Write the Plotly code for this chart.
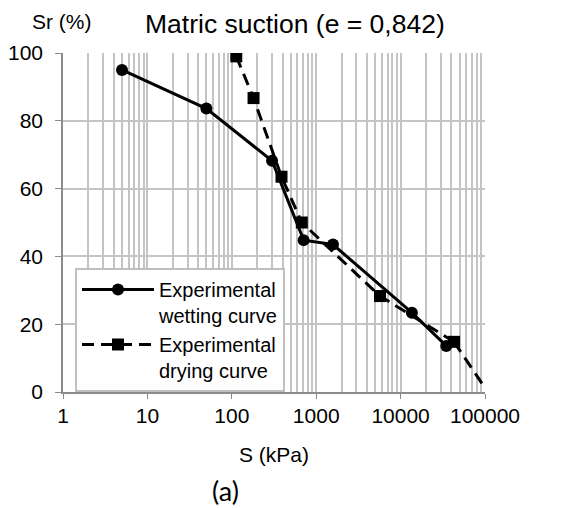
import plotly.graph_objects as go

# Data
wet_S = [5, 50, 300, 710, 1580, 13600, 34800]
wet_Sr = [95.0, 83.6, 68.2, 44.8, 43.5, 23.4, 13.6]
dry_S = [113, 181, 388, 675, 5700, 43000, 100000]
dry_Sr = [99.0, 86.7, 63.5, 50.0, 28.3, 14.8, 1.2]

x_tickvals = [1, 10, 100, 1000, 10000, 100000]
x_ticktext = ["1", "10", "100", "1000", "10000", "100000"]
y_tickvals = [0, 20, 40, 60, 80, 100]

FONT = "Liberation Sans, Arial, sans-serif"
GRID = "#c4c4c4"
AXIS = "#8c8c8c"

# page offset (browser body margin) compensation
OFF = 8
W, H = 569, 508
L, R, T, B = 63 - OFF, W - (485 - OFF), 53 - OFF, H - (392 - OFF)
pw = W - L - R
ph = H - T - B


def px(xp):
    return (xp - OFF - L) / pw


def py(yp):
    return (H - B - (yp - OFF)) / ph


fig = go.Figure()
fig.add_trace(go.Scatter(
    x=wet_S, y=wet_Sr, mode="lines+markers",
    name="Experimental<br>wetting curve",
    line=dict(color="black", width=3),
    marker=dict(symbol="circle", size=12, color="black"),
))
# drying curve: markers on all measured points, last point is the line end only
fig.add_trace(go.Scatter(
    x=dry_S[-2:], y=dry_Sr[-2:], mode="lines",
    showlegend=False,
    line=dict(color="black", width=3, dash="12px,7px"),
))
fig.add_trace(go.Scatter(
    x=dry_S[:-1], y=dry_Sr[:-1], mode="lines+markers",
    name="Experimental<br>drying curve",
    line=dict(color="black", width=3, dash="12px,7px"),
    marker=dict(symbol="square", size=12, color="black",
                line=dict(width=0, color="black")),
))

fig.update_layout(
    width=W, height=H,
    margin=dict(l=L, r=R, t=T, b=B, autoexpand=False),
    paper_bgcolor="white", plot_bgcolor="white",
    font=dict(family=FONT, size=21, color="black"),
    showlegend=True,
    legend=dict(
        x=px(75), y=py(268), xanchor="left", yanchor="top",
        bgcolor="white", bordercolor="#bfbfbf", borderwidth=2,
        font=dict(size=20), valign="top", tracegroupgap=0,
        itemwidth=72,
    ),
    xaxis=dict(
        type="log", range=[0, 5], automargin=False,
        tickvals=x_tickvals, ticktext=x_ticktext,
        showgrid=True, gridcolor=GRID, gridwidth=1.5,
        minor=dict(dtick="D1", showgrid=True, gridcolor=GRID, gridwidth=1.5,
                   ticks=""),
        showline=True, linecolor=AXIS, linewidth=1.5,
        ticks="outside", ticklen=5, tickcolor=AXIS,
        ticklabelstandoff=-1,
        zeroline=False,
        title=dict(text="S (kPa)", font=dict(size=21), standoff=21),
    ),
    yaxis=dict(
        range=[0, 100], tickvals=y_tickvals, automargin=False,
        showgrid=True, gridcolor=GRID, gridwidth=1.5,
        showline=True, linecolor=AXIS, linewidth=1.5,
        ticks="outside", ticklen=6, tickcolor=AXIS,
        ticklabelstandoff=8,
        zeroline=False,
    ),
)

fig.add_annotation(text="Matric suction (e = 0,842)", x=px(295), y=py(24),
                   xref="paper", yref="paper", showarrow=False,
                   font=dict(size=26.5), xanchor="center", yanchor="middle")
fig.add_annotation(text="Sr (%)", x=px(62), y=py(21),
                   xref="paper", yref="paper", showarrow=False,
                   font=dict(size=21), xanchor="center", yanchor="middle")
fig.add_annotation(text="(a)", x=px(225), y=py(490),
                   xref="paper", yref="paper", showarrow=False,
                   font=dict(size=27, family="Lato, Open Sans, sans-serif"),
                   xanchor="center", yanchor="middle")

fig.write_html("out.html")
